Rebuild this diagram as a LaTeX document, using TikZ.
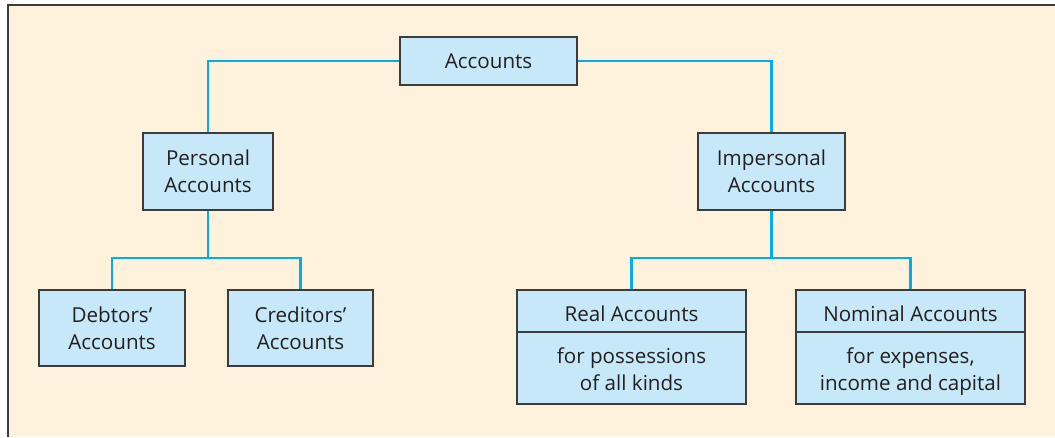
\documentclass[tikz,border=0pt]{standalone}
\usepackage{fontspec}
\setmainfont{Open Sans}
\definecolor{cream}{HTML}{FEF2DC}
\definecolor{boxfill}{HTML}{C6E8F8}
\definecolor{boxline}{HTML}{3C3C3C}
\definecolor{conn}{HTML}{00AEEF}
\definecolor{txt}{HTML}{231F20}
\begin{document}
\begin{tikzpicture}[x=1pt,y=-1pt,
  acc/.style={draw=boxline,fill=boxfill,line width=1.3pt,inner sep=0pt,align=center,
    text=txt,font=\fontsize{20.6}{27}\selectfont},
  lbl/.style={inner sep=0pt,align=center,text=txt,font=\fontsize{20.6}{27}\selectfont},
  link/.style={draw=conn,line width=2.8pt}]
\useasboundingbox (0,0) rectangle (1055,437);
\fill[white] (0,0) rectangle (1055,437);
\fill[cream] (8,5) rectangle (1055,437);
\draw[boxline,line width=1.6pt] (8,437) -- (8,5) -- (1055,5);
% nodes
\node[acc,minimum width=177pt,minimum height=48pt] (top) at (488.5,61) {Accounts};
\node[acc,minimum width=130pt,minimum height=77pt] (pers) at (208,171.5) {Personal\\Accounts};
\node[acc,minimum width=147pt,minimum height=77pt] (imp) at (771.5,171.5) {Impersonal\\Accounts};
\node[acc,minimum width=146pt,minimum height=76pt] (deb) at (112,328) {Debtors’\\Accounts};
\node[acc,minimum width=145pt,minimum height=76pt] (cred) at (300.5,328) {Creditors’\\Accounts};
\node[acc,minimum width=229pt,minimum height=114pt] (real) at (631.5,347) {};
\node[acc,minimum width=229pt,minimum height=114pt] (nom) at (910.5,347) {};
\draw[boxline,line width=1.3pt] (real.west |- 0,332) coordinate (rl) -- (real.east |- 0,332) coordinate (rr);
\draw[boxline,line width=1.3pt] (nom.west |- 0,332) coordinate (nl) -- (nom.east |- 0,332) coordinate (nr);
\node[lbl] (realt) at (631.5,314) {Real Accounts};
\node[lbl] (reald) at (631.5,369.5) {for possessions\\of all kinds};
\node[lbl] (nomt) at (910.5,314) {Nominal Accounts};
\node[lbl] (nomd) at (910.5,372) {for expenses,\\income and capital};
% connectors
\draw[link] (top.west) -| (pers.north);
\draw[link] (top.east) -| (imp.north);
\coordinate (pj) at (208,258);
\coordinate (ij) at (771.5,258);
\draw[link] (pers.south) -- (pj);
\draw[link] (deb.north) |- (pj) -| (cred.north);
\draw[link] (imp.south) -- (ij);
\draw[link] (real.north) |- (ij) -| (nom.north);
\end{tikzpicture}
\end{document}
